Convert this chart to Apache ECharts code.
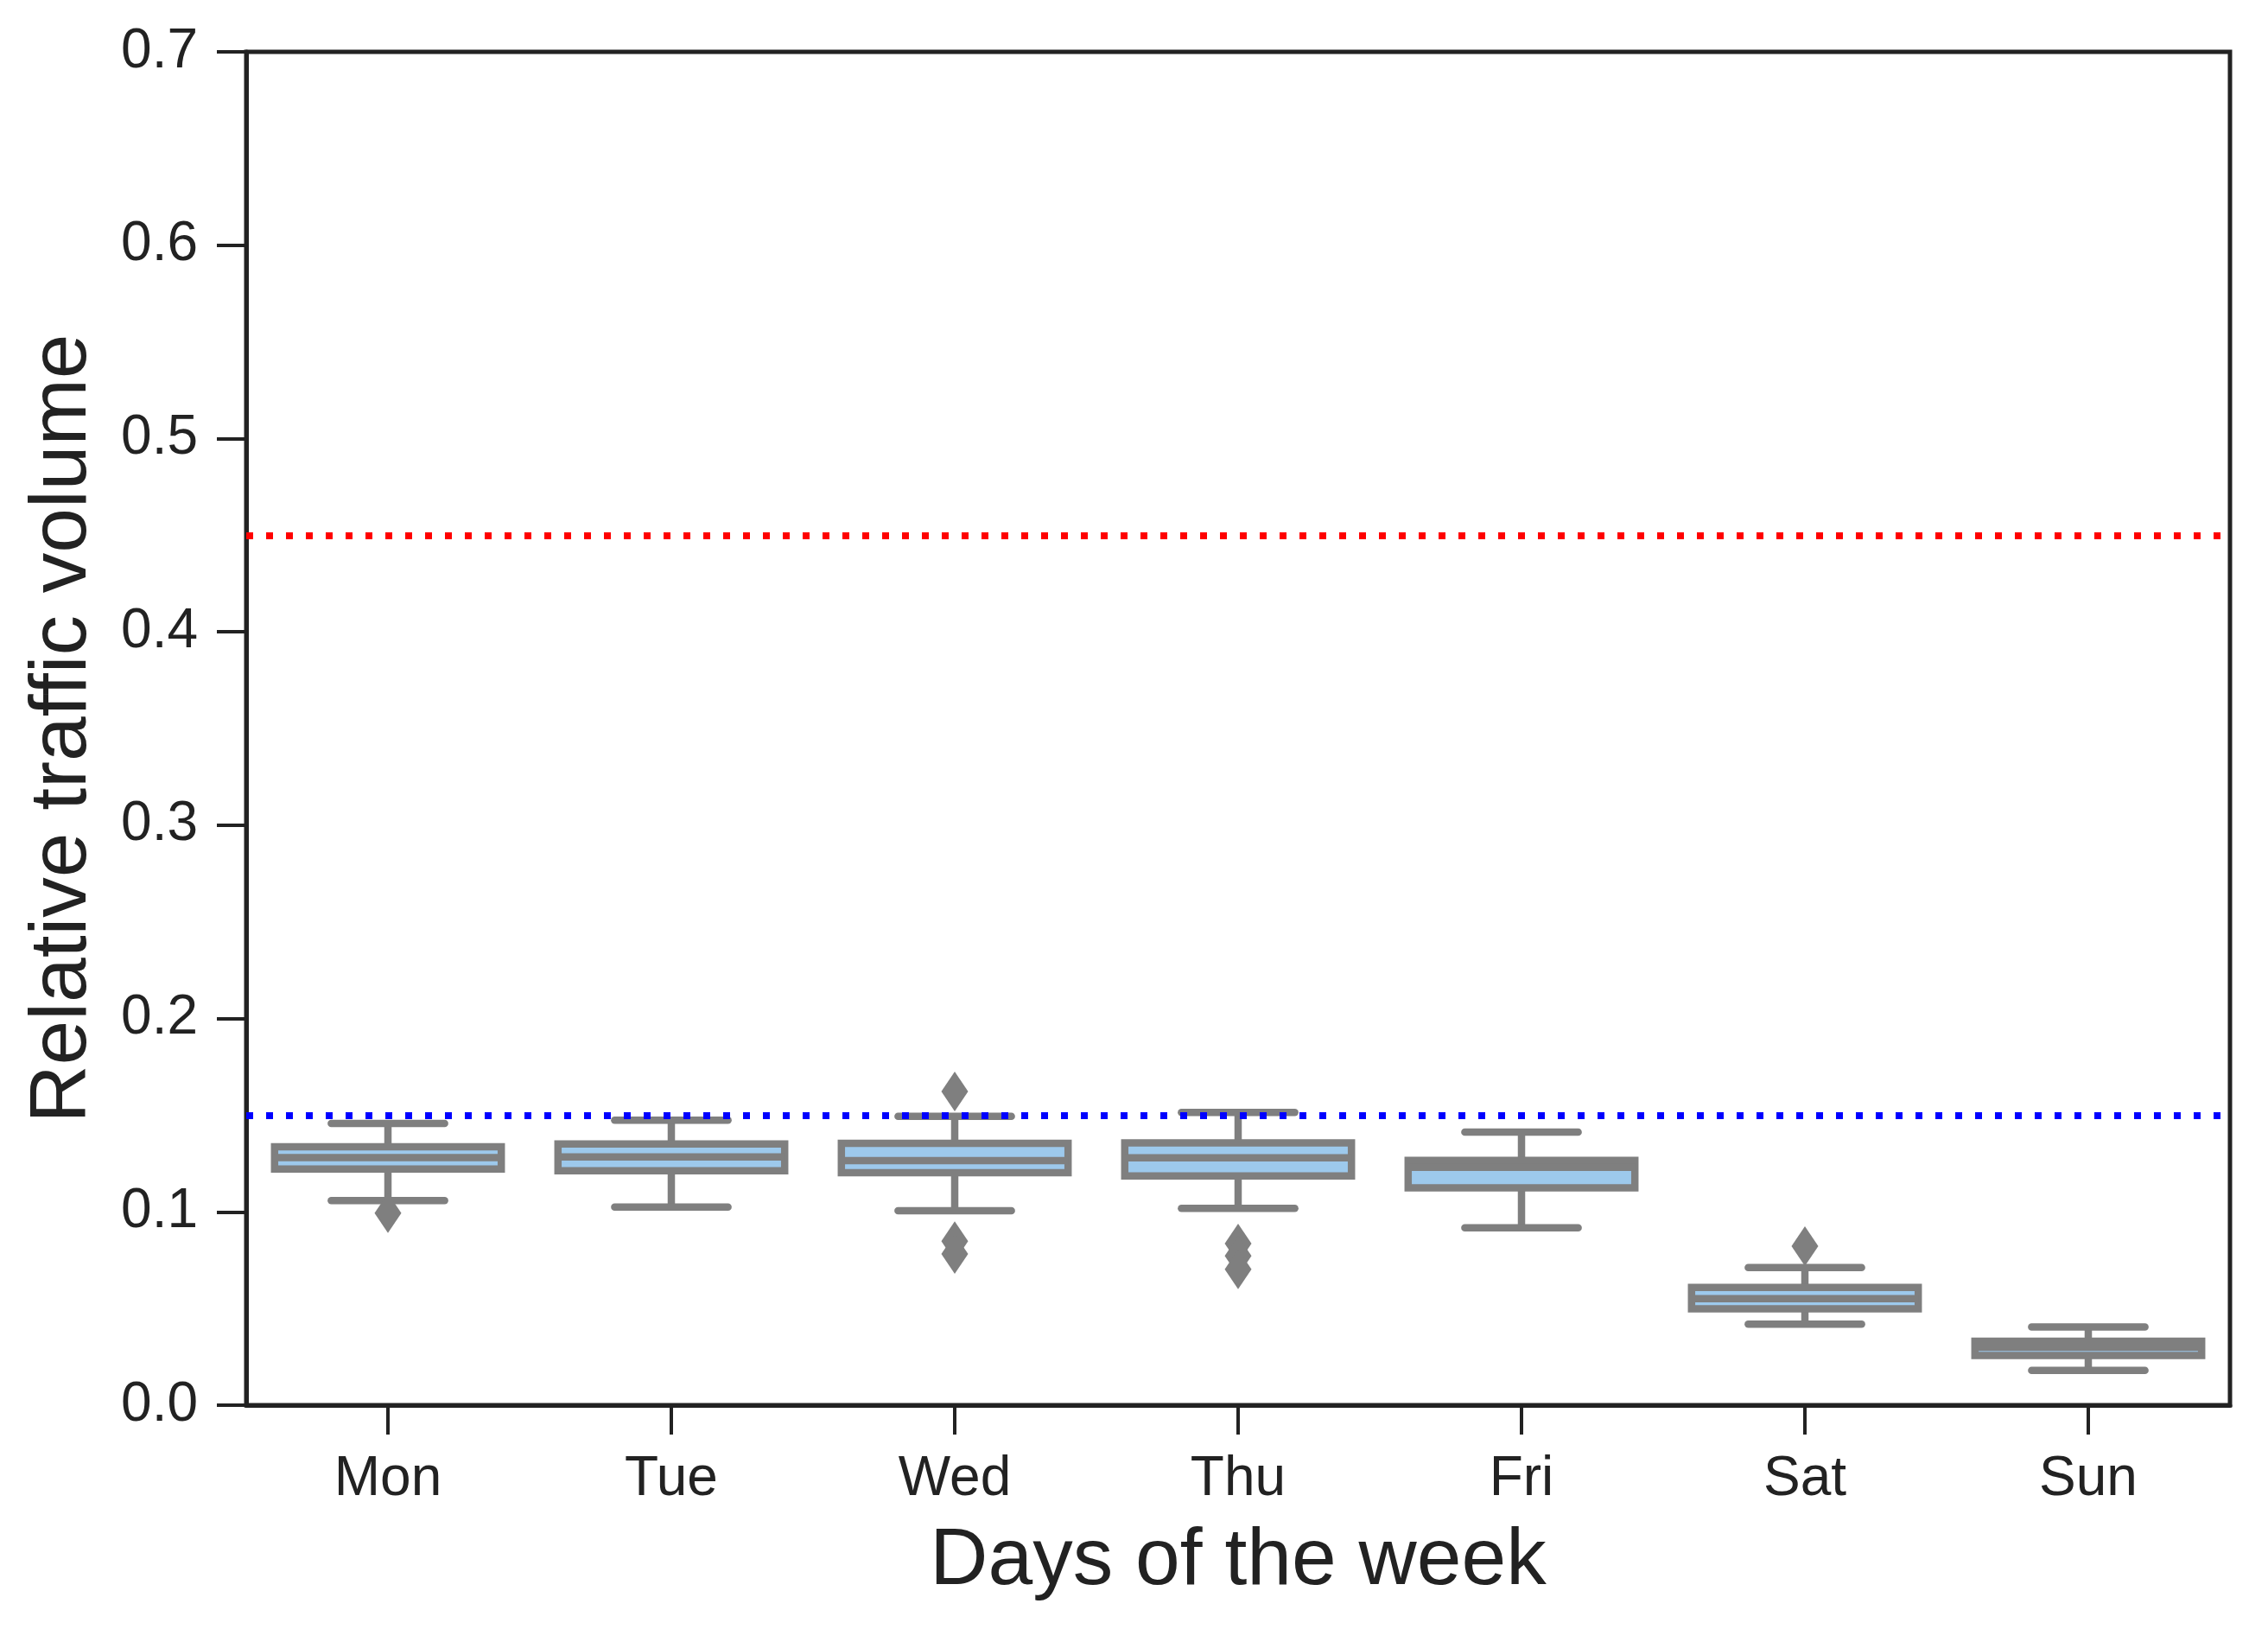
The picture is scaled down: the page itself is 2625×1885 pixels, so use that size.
<!DOCTYPE html>
<html>
<head>
<meta charset="utf-8">
<script src="https://cdn.jsdelivr.net/npm/echarts@6/dist/echarts.min.js"></script>
<style>
html,body{margin:0;padding:0;background:#fff;}
#chart{width:2625px;height:1885px;}
</style>
</head>
<body>
<div id="chart"></div>
<script>
var days = ['Mon', 'Tue', 'Wed', 'Thu', 'Fri', 'Sat', 'Sun'];
var whiskerLow  = [0.1058, 0.1025, 0.1006, 0.1018, 0.0918, 0.0419, 0.0180];
var q1          = [0.1221, 0.1213, 0.1202, 0.1186, 0.1124, 0.0498, 0.0257];
var median      = [0.1281, 0.1284, 0.1265, 0.1279, 0.1230, 0.0551, 0.0300];
var q3          = [0.1336, 0.1351, 0.1354, 0.1357, 0.1266, 0.0609, 0.0331];
var whiskerHigh = [0.1457, 0.1474, 0.1494, 0.1514, 0.1413, 0.0712, 0.0404];
var outlierDay   = [0, 2, 2, 2, 3, 3, 3, 5];
var outlierValue = [0.0994, 0.1623, 0.0848, 0.0782, 0.0836, 0.0772, 0.0703, 0.0823];
var upperThreshold = 0.45;
var lowerThreshold = 0.15;

var GRAY = '#7f7f7f';
var FILL = '#9dc9ec';
var LW = 8.5;
var FONT = '"Liberation Sans", Arial, sans-serif';
var INK = '#222222';

var boxData = days.map(function (d, i) {
  return [i, whiskerLow[i], q1[i], median[i], q3[i], whiskerHigh[i]];
});
var outlierData = outlierDay.map(function (d, i) { return [d, outlierValue[i]]; });

function renderBox(params, api) {
  var idx = api.value(0);
  var band = api.size([1, 0])[0];
  var bw = band * 0.8;
  var cw = bw / 2;
  var pLow = api.coord([idx, api.value(1)]);
  var pQ1 = api.coord([idx, api.value(2)]);
  var pMed = api.coord([idx, api.value(3)]);
  var pQ3 = api.coord([idx, api.value(4)]);
  var pHigh = api.coord([idx, api.value(5)]);
  var cx = pQ1[0];
  var ls = { stroke: GRAY, lineWidth: LW, lineCap: 'round' };
  var lsb = { stroke: GRAY, lineWidth: LW, lineCap: 'butt' };
  return {
    type: 'group',
    children: [
      { type: 'line', shape: { x1: cx, y1: pQ3[1], x2: cx, y2: pHigh[1] }, style: lsb },
      { type: 'line', shape: { x1: cx, y1: pQ1[1], x2: cx, y2: pLow[1] }, style: lsb },
      { type: 'line', shape: { x1: cx - cw / 2, y1: pHigh[1], x2: cx + cw / 2, y2: pHigh[1] }, style: ls },
      { type: 'line', shape: { x1: cx - cw / 2, y1: pLow[1], x2: cx + cw / 2, y2: pLow[1] }, style: ls },
      { type: 'rect', shape: { x: cx - bw / 2, y: pQ3[1], width: bw, height: pQ1[1] - pQ3[1] },
        style: { fill: FILL, stroke: GRAY, lineWidth: LW } },
      { type: 'line', shape: { x1: cx - bw / 2, y1: pMed[1], x2: cx + bw / 2, y2: pMed[1] }, style: lsb }
    ]
  };
}

var chart = echarts.init(document.getElementById('chart'));
chart.setOption({
  animation: false,
  backgroundColor: '#ffffff',
  grid: { left: 285, right: 44, top: 60, bottom: 259, show: true, borderColor: INK, borderWidth: 5, backgroundColor: 'transparent' },
  xAxis: {
    type: 'category',
    data: days,
    boundaryGap: true,
    name: 'Days of the week',
    nameLocation: 'middle',
    nameGap: 135,
    nameTextStyle: { fontFamily: FONT, fontSize: 93, color: INK },
    axisLine: { show: true, lineStyle: { color: INK, width: 5 } },
    axisTick: { show: true, alignWithLabel: true, length: 34, lineStyle: { color: INK, width: 4 } },
    axisLabel: { fontFamily: FONT, fontSize: 64, color: INK, margin: 54 },
    splitLine: { show: false }
  },
  yAxis: {
    type: 'value',
    min: 0, max: 0.7, interval: 0.1,
    name: 'Relative traffic volume',
    nameLocation: 'middle',
    nameGap: 165,
    nameTextStyle: { fontFamily: FONT, fontSize: 93, color: INK },
    axisLine: { show: true, lineStyle: { color: INK, width: 5 } },
    axisTick: { show: true, length: 34, lineStyle: { color: INK, width: 4 } },
    axisLabel: { fontFamily: FONT, fontSize: 64, color: INK, margin: 56,
      formatter: function (v) { return v.toFixed(1); } },
    splitLine: { show: false }
  },
  series: [
    {
      type: 'custom',
      renderItem: renderBox,
      data: boxData,
      encode: { x: 0, y: [1, 2, 3, 4, 5] },
      z: 2
    },
    {
      type: 'scatter',
      data: outlierData,
      symbol: 'diamond',
      symbolSize: [31, 46],
      itemStyle: { color: GRAY, opacity: 1 },
      z: 3,
      markLine: {
        silent: true,
        symbol: 'none',
        label: { show: false },
        data: [
          { yAxis: upperThreshold, lineStyle: { color: '#ff0000', width: 8, type: [8, 15], opacity: 1 } },
          { yAxis: lowerThreshold, lineStyle: { color: '#0000ff', width: 8, type: [8, 15], opacity: 1 } }
        ]
      }
    }
  ]
});
</script>
</body>
</html>
